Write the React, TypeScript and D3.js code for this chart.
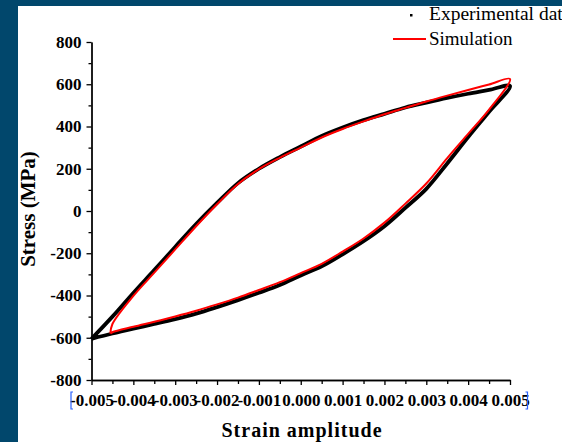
import React, { useEffect, useRef } from "react";
import * as d3 from "d3";

// strain grid used for the experimental loop (both branches)
const strainGrid = [
  -0.005, -0.0045, -0.004, -0.0035, -0.003, -0.0025, -0.002, -0.0015, -0.001, -0.0005,
  0, 0.0005, 0.001, 0.0015, 0.002, 0.0025, 0.003, 0.0035, 0.004, 0.0045, 0.005,
];
const expLoading = [
  -605, -500, -388, -280, -170, -62, 38, 132, 200, 255,
  305, 355, 395, 430, 460, 490, 513, 535, 555, 573, 592,
];
const expUnloading = [
  -605, -580, -557, -535, -512, -486, -455, -422, -387, -350,
  -305, -262, -205, -143, -72, 15, 105, 225, 350, 470, 585,
];

// simulation loop starts at its rounded tip
const simStrain = [
  -0.00455, -0.0045, -0.004, -0.0035, -0.003, -0.0025, -0.002, -0.0015, -0.001, -0.0005,
  0, 0.0005, 0.001, 0.0015, 0.002, 0.0025, 0.003, 0.0035, 0.004, 0.0045, 0.005,
];
const simLoading = [
  -580, -535, -402, -292, -182, -72, 32, 128, 198, 252,
  300, 348, 388, 424, 458, 488, 518, 546, 573, 599, 625,
];
const simUnloading = [
  -580, -574, -548, -524, -499, -472, -442, -410, -374, -337,
  -294, -250, -192, -130, -55, 35, 130, 250, 365, 480, 625,
];

const xMajor = [-0.005, -0.004, -0.003, -0.002, -0.001, 0, 0.001, 0.002, 0.003, 0.004, 0.005];
const xMinor = [-0.0045, -0.0035, -0.0025, -0.0015, -0.0005, 0.0005, 0.0015, 0.0025, 0.0035, 0.0045];
const yMajor = [-800, -600, -400, -200, 0, 200, 400, 600, 800];
const yMinor = [-700, -500, -300, -100, 100, 300, 500, 700];

const serif = "'Liberation Serif', 'Times New Roman', serif";

export default function App() {
  const svgRef = useRef<SVGSVGElement>(null);

  useEffect(() => {
    const svg = d3.select(svgRef.current);
    svg.selectAll("*").remove();

    // frame
    svg.append("rect").attr("width", 562).attr("height", 442).attr("fill", "#01476c");
    svg.append("rect").attr("x", 18).attr("y", 6).attr("width", 544).attr("height", 436).attr("fill", "#fff");

    const x = d3.scaleLinear().domain([-0.005, 0.005]).range([91.5, 510]);
    const y = d3.scaleLinear().domain([-800, 800]).range([380, 42]);

    const line = d3
      .line<[number, number]>()
      .x((d) => x(d[0]))
      .y((d) => y(d[1]))
      .curve(d3.curveCatmullRom);

    const expPts: [number, number][] = strainGrid
      .map((s, i) => [s, expLoading[i]] as [number, number])
      .concat(strainGrid.map((s, i) => [s, expUnloading[i]] as [number, number]).reverse().slice(1));
    const simPts: [number, number][] = simStrain
      .map((s, i) => [s, simLoading[i]] as [number, number])
      .concat(simStrain.map((s, i) => [s, simUnloading[i]] as [number, number]).reverse().slice(1));

    svg.append("path")
      .attr("d", line(expPts))
      .attr("fill", "none")
      .attr("stroke", "#000")
      .attr("stroke-width", 3.8)
      .attr("stroke-linejoin", "round");

    svg.append("path")
      .attr("d", line(simPts))
      .attr("fill", "none")
      .attr("stroke", "#ff0000")
      .attr("stroke-width", 2)
      .attr("stroke-linejoin", "round");

    // axes
    const styleAxis = (g: any) => {
      g.select(".domain").attr("stroke-width", 1.3);
      g.selectAll(".tick line").attr("stroke-width", 1.3);
      g.selectAll("text")
        .attr("font-family", serif)
        .attr("font-weight", "bold")
        .attr("font-size", 17)
        .attr("fill", "#000");
    };

    svg.append("g")
      .attr("transform", "translate(0,380)")
      .call(d3.axisBottom(x).tickValues(xMinor).tickSize(4).tickFormat(() => "").tickSizeOuter(0))
      .call(styleAxis);
    svg.append("g")
      .attr("transform", "translate(0,380)")
      .call(
        d3.axisBottom(x).tickValues(xMajor).tickSize(5).tickPadding(9).tickSizeOuter(0)
          .tickFormat((d) => (+d).toFixed(3))
      )
      .call(styleAxis);

    svg.append("g")
      .attr("transform", "translate(91.5,0)")
      .call(d3.axisLeft(y).tickValues(yMinor).tickSize(3).tickFormat(() => "").tickSizeOuter(0))
      .call(styleAxis);
    svg.append("g")
      .attr("transform", "translate(91.5,0)")
      .call(
        d3.axisLeft(y).tickValues(yMajor).tickSize(5).tickPadding(5).tickSizeOuter(0)
          .tickFormat((d) => (+d).toFixed(0))
      )
      .call(styleAxis);

    // blue selection brackets around the x labels
    const bracket = svg.append("g").attr("stroke", "#2a62ff").attr("stroke-width", 1.2).attr("fill", "none");
    bracket.append("path").attr("d", "M73,392 H71 V409 H73");
    bracket.append("path").attr("d", "M525.5,392 H527.5 V409 H525.5");

    // axis titles
    svg.append("text")
      .attr("transform", "translate(35,209) rotate(-90)")
      .attr("text-anchor", "middle")
      .attr("font-family", serif)
      .attr("font-weight", "bold")
      .attr("font-size", 21)
      .text("Stress (MPa)");

    svg.append("text")
      .attr("x", 302)
      .attr("y", 437)
      .attr("text-anchor", "middle")
      .attr("font-family", serif)
      .attr("font-weight", "bold")
      .attr("font-size", 20)
      .attr("letter-spacing", 1)
      .text("Strain amplitude");

    // legend
    svg.append("rect").attr("x", 410).attr("y", 14).attr("width", 2.5).attr("height", 2.5).attr("fill", "#000");
    svg.append("text")
      .attr("x", 429).attr("y", 20)
      .attr("font-family", serif).attr("font-size", 19.5)
      .text("Experimental data");
    svg.append("line")
      .attr("x1", 393).attr("x2", 426).attr("y1", 39).attr("y2", 39)
      .attr("stroke", "#ff0000").attr("stroke-width", 2);
    svg.append("text")
      .attr("x", 429).attr("y", 44.5)
      .attr("font-family", serif).attr("font-size", 19)
      .text("Simulation");
  }, []);

  return (
    <svg
      ref={svgRef}
      width={562}
      height={442}
      style={{ position: "absolute", left: 0, top: 0 }}
    ></svg>
  );
}
